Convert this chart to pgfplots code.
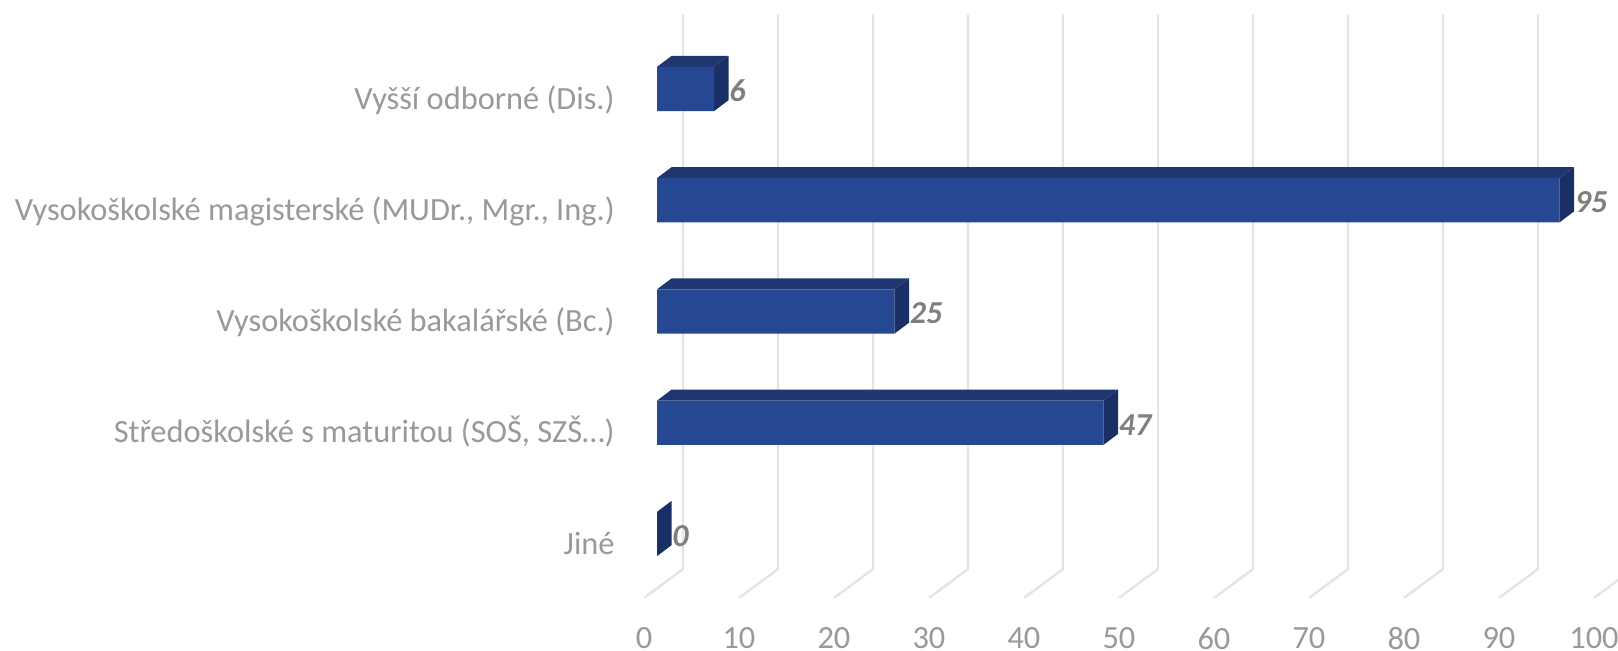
\documentclass[border=0pt]{standalone}
\usepackage{fontspec}
\setmainfont{Carlito}
\usepackage{pgfplots}
\pgfplotsset{compat=1.18}
\definecolor{barfront}{HTML}{264893}
\definecolor{barside}{HTML}{1A2F66}
\definecolor{bartop}{HTML}{1F3670}
\definecolor{gridcol}{HTML}{E4E4E4}
\definecolor{labelcol}{HTML}{999999}
\definecolor{valcol}{HTML}{7F7F7F}
\begin{document}
\begin{tikzpicture}
% page is 1618x651 px, at 0.5pt per px
\useasboundingbox (-322pt,-26.5pt) rectangle (487pt,299pt);
\begin{axis}[
  at={(0pt,0pt)}, anchor=south west,
  scale only axis,
  width=487pt, height=291.75pt,
  xmin=-1.37, xmax=101.16,
  ymin=-0.575, ymax=4.67,
  axis line style={draw=none},
  major tick length=0pt,
  xtick={-1.37,8.63,18.63,28.63,38.63,48.63,58.63,68.63,78.63,88.63,98.63},
  xticklabels={0,10,20,30,40,50,60,70,80,90,100},
  ytick={-0.09,0.91,1.91,2.91,3.91},
  yticklabels={Jiné,{Středoškolské s maturitou (SOŠ, SZŠ…)},Vysokoškolské bakalářské (Bc.),{Vysokoškolské magisterské (MUDr., Mgr., Ing.)},Vyšší odborné (Dis.)},
  tick label style={font=\fontsize{16.2}{20}\selectfont, text=labelcol, inner sep=0pt},
  xticklabel style={yshift=-14.5pt},
  yticklabel style={xshift=-14.5pt, text height=11pt, text depth=3pt, yshift=-1pt},
]
% grid: floor diagonal, then back wall
\addplot[gridcol, line width=1.2pt, forget plot] coordinates {(-1.37,-0.575) (2.74,-0.315) (2.74,4.67)};
\addplot[gridcol, line width=1.2pt, forget plot] coordinates {(8.63,-0.575) (12.74,-0.315) (12.74,4.67)};
\addplot[gridcol, line width=1.2pt, forget plot] coordinates {(18.63,-0.575) (22.74,-0.315) (22.74,4.67)};
\addplot[gridcol, line width=1.2pt, forget plot] coordinates {(28.63,-0.575) (32.74,-0.315) (32.74,4.67)};
\addplot[gridcol, line width=1.2pt, forget plot] coordinates {(38.63,-0.575) (42.74,-0.315) (42.74,4.67)};
\addplot[gridcol, line width=1.2pt, forget plot] coordinates {(48.63,-0.575) (52.74,-0.315) (52.74,4.67)};
\addplot[gridcol, line width=1.2pt, forget plot] coordinates {(58.63,-0.575) (62.74,-0.315) (62.74,4.67)};
\addplot[gridcol, line width=1.2pt, forget plot] coordinates {(68.63,-0.575) (72.74,-0.315) (72.74,4.67)};
\addplot[gridcol, line width=1.2pt, forget plot] coordinates {(78.63,-0.575) (82.74,-0.315) (82.74,4.67)};
\addplot[gridcol, line width=1.2pt, forget plot] coordinates {(88.63,-0.575) (92.74,-0.315) (92.74,4.67)};
\addplot[gridcol, line width=1.2pt, forget plot] coordinates {(98.63,-0.575) (102.74,-0.315) (102.74,4.67)};
% tops of the bars
\addplot[fill=bartop, draw=none, forget plot] coordinates {(0,1.199) (1.55,1.299) (48.55,1.299) (47,1.199)} --cycle;
\addplot[fill=bartop, draw=none, forget plot] coordinates {(0,2.199) (1.55,2.299) (26.55,2.299) (25,2.199)} --cycle;
\addplot[fill=bartop, draw=none, forget plot] coordinates {(0,3.199) (1.55,3.299) (96.55,3.299) (95,3.199)} --cycle;
\addplot[fill=bartop, draw=none, forget plot] coordinates {(0,4.199) (1.55,4.299) (7.55,4.299) (6,4.199)} --cycle;
% sides of the bars
\addplot[fill=barside, draw=none, forget plot] coordinates {(0,-0.199) (1.55,-0.099) (1.55,0.299) (0,0.199)} --cycle;
\addplot[fill=barside, draw=none, forget plot] coordinates {(47,0.801) (48.55,0.901) (48.55,1.299) (47,1.199)} --cycle;
\addplot[fill=barside, draw=none, forget plot] coordinates {(25,1.801) (26.55,1.901) (26.55,2.299) (25,2.199)} --cycle;
\addplot[fill=barside, draw=none, forget plot] coordinates {(95,2.801) (96.55,2.901) (96.55,3.299) (95,3.199)} --cycle;
\addplot[fill=barside, draw=none, forget plot] coordinates {(6,3.801) (7.55,3.901) (7.55,4.299) (6,4.199)} --cycle;
% front faces with the values
\addplot[
  xbar, bar width=0.398, bar shift=0pt,
  fill=barfront, draw=none,
  nodes near coords,
  point meta=x,
  /pgf/number format/assume math mode=true,
  every node near coord/.append style={
    font=\fontsize{16}{20}\selectfont\bfseries\itshape,
    text=valcol, inner sep=0pt, xshift=7.5pt, anchor=west, yshift=-1pt,
  },
] coordinates {(0,0) (47,1) (25,2) (95,3) (6,4)};
\end{axis}
\end{tikzpicture}
\end{document}
